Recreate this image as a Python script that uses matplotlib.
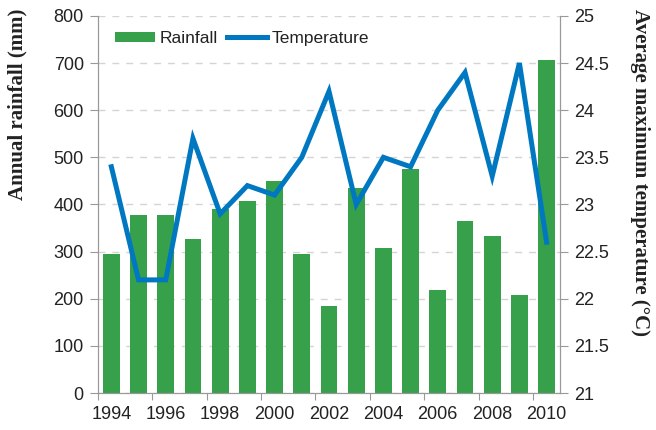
import numpy as np
import matplotlib.pyplot as plt
from matplotlib.ticker import MultipleLocator, FixedLocator, NullFormatter

years = list(range(1994, 2011))
rainfall = [295, 378, 378, 327, 390, 407, 450, 295, 185, 435, 308, 475, 218, 365, 333, 208, 706]
temperature = [23.4, 22.2, 22.2, 23.7, 22.9, 23.2, 23.1, 23.5, 24.2, 23.0, 23.5, 23.4, 24.0, 24.4, 23.3, 24.5, 22.6]

green = "#36a14a"
blue = "#0078c1"
grey = "#999999"
text_col = "#222222"

plt.rcParams['font.family'] = ['Liberation Sans', 'DejaVu Sans']

fig = plt.figure(figsize=(6.56, 4.30), dpi=100)
ax = fig.add_axes([0.149, 0.086, 0.705, 0.877])
ax2 = ax.twinx()

x = np.arange(len(years))
bars = ax.bar(x, rainfall, width=0.62, color=green, zorder=2, label="Rainfall")
line, = ax2.plot(x, temperature, color=blue, lw=3.6, solid_joinstyle="miter", label="Temperature")

ax.set_xlim(-0.5, len(years) - 0.5)
ax.set_ylim(0, 800)
ax2.set_ylim(21, 25)
ax.yaxis.set_major_locator(MultipleLocator(100))
ax2.set_yticks(np.arange(21, 25.01, 0.5))
ax2.set_yticklabels([f"{v:g}" for v in np.arange(21, 25.01, 0.5)])

# x ticks at category boundaries, labels under every second bar
ax.xaxis.set_major_locator(FixedLocator(np.arange(-0.5, len(years), 2)))
ax.xaxis.set_major_formatter(NullFormatter())
ax.set_xticks(x[::2], minor=True)
ax.set_xticklabels([str(y) for y in years[::2]], minor=True)
ax.tick_params(axis="x", which="minor", length=0, pad=9)
ax.tick_params(axis="x", which="major", length=5, color=grey, direction="out")

ax.grid(axis="y", color="#d4d4d4", linestyle=(0, (5, 5)), lw=1, zorder=0)
ax.set_axisbelow(True)

for a in (ax, ax2):
    a.spines["top"].set_visible(False)
    for s in ("left", "right", "bottom"):
        a.spines[s].set_color(grey)
    a.tick_params(axis="y", length=6, color=grey, labelsize=13, labelcolor=text_col, pad=4)
ax.tick_params(axis="x", which="minor", labelsize=13, labelcolor=text_col)

# axis titles sit at the top of the figure, as in the source
serif = ["Liberation Serif", "DejaVu Serif"]
fig.text(17 / 656, 1 - 9 / 430, "Annual rainfall (mm)", family=serif, fontsize=15,
         fontweight="bold", color=text_col, rotation=90, ha="center", va="top")
fig.text(640 / 656, 1 - 9 / 430, "Average maximum temperature (\u00b0C)", family=serif,
         fontsize=15, fontweight="bold", color=text_col, rotation=270, ha="center", va="top")

ax.legend([bars, line], ["Rainfall", "Temperature"], loc="upper left",
          bbox_to_anchor=(0.037, 0.96), ncol=2, frameon=False, fontsize=12.5,
          borderaxespad=0, borderpad=0,
          handlelength=2.3, handleheight=0.55, columnspacing=0.5, handletextpad=0.3,
          labelcolor=text_col)

fig.savefig("out.png", dpi=100)
